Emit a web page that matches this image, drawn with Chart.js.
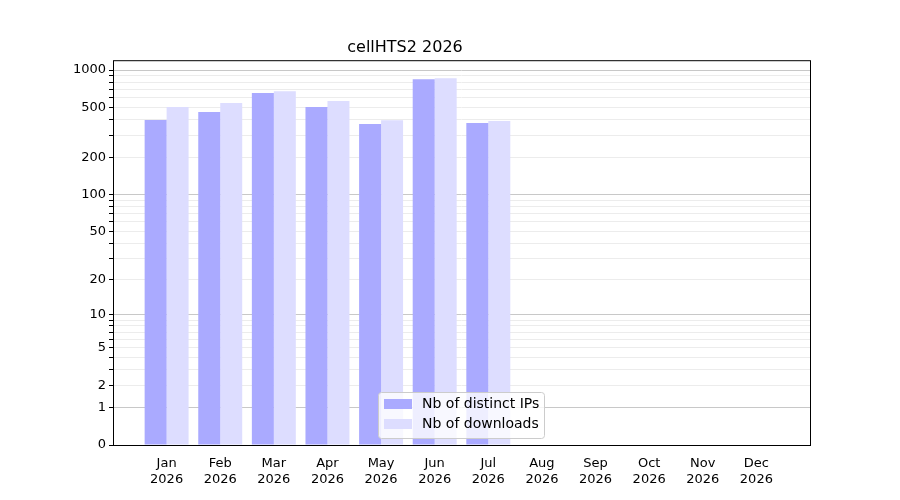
<!DOCTYPE html>
<html>
<head>
<meta charset="utf-8">
<script src="https://cdn.jsdelivr.net/npm/chart.js@4"></script>
<style>
  body { margin: 0; background: #fff; }
  #wrap { width: 900px; height: 500px; }
</style>
</head>
<body>
<div id="wrap"><canvas id="chart" width="900" height="500"></canvas></div>
<script>
const months = ['Jan', 'Feb', 'Mar', 'Apr', 'May', 'Jun', 'Jul', 'Aug', 'Sep', 'Oct', 'Nov', 'Dec'];
const year = '2026';
const distinctIps = [398, 461, 654, 505, 369, 846, 376];
const downloads = [505, 544, 678, 564, 397, 862, 390];
const yLabels = [0, 1, 2, 5, 10, 20, 50, 100, 200, 500, 1000];

// log10(1 + v) scale, like the original
const tf = v => Math.log10(1 + v);
const inv = t => Math.round(Math.pow(10, t) - 1);

const gridVals = [0];
for (let d = 1; d <= 1000; d *= 10) {
    for (let m = 1; m <= 9; m++) {
        if (d * m <= 1000) gridVals.push(d * m);
    }
}

const toPoints = arr => arr.map((v, i) => ({ x: i, y: tf(v) }));

const legendBox = {
    id: 'legendBox',
    afterDraw(chart) {
        const ctx = chart.ctx;
        const a = chart.chartArea;
        ctx.save();
        ctx.strokeStyle = '#000';
        ctx.lineWidth = 1;
        ctx.strokeRect(a.left + 0.5, a.top + 0.5, a.right - a.left, a.bottom - a.top);

        const x = 378, y = 392, w = 166, h = 46;
        ctx.fillStyle = 'rgba(255,255,255,0.8)';
        ctx.strokeStyle = '#cccccc';
        ctx.beginPath();
        ctx.roundRect(x + 0.5, y + 0.5, w, h, 3);
        ctx.fill();
        ctx.stroke();
        ctx.font = '14px "DejaVu Sans"';
        ctx.textBaseline = 'middle';
        chart.data.datasets.forEach((ds, i) => {
            const ry = y + 12 + i * 20;
            ctx.fillStyle = ds.backgroundColor;
            ctx.fillRect(x + 6, ry - 5, 28, 10);
            ctx.fillStyle = '#000';
            ctx.fillText(ds.label, x + 44, ry);
        });
        ctx.restore();
    }
};

new Chart(document.getElementById('chart'), {
    type: 'bar',
    data: {
        datasets: [{
            label: 'Nb of distinct IPs',
            data: toPoints(distinctIps),
            backgroundColor: '#aaaaff'
        }, {
            label: 'Nb of downloads',
            data: toPoints(downloads),
            backgroundColor: '#ddddff'
        }]
    },
    options: {
        responsive: false,
        animation: false,
        layout: { padding: { right: 90 } },
        datasets: { bar: { categoryPercentage: 0.82, barPercentage: 1.0 } },
        plugins: {
            legend: { display: false },
            tooltip: { enabled: false },
            title: {
                display: true,
                text: 'cellHTS2 2026',
                color: '#000',
                font: { family: 'DejaVu Sans', size: 16, weight: 'normal' },
                padding: { top: 38, bottom: 3 }
            }
        },
        scales: {
            x: {
                type: 'linear',
                offset: false,
                min: -1,
                max: 12,
                afterBuildTicks: s => { s.ticks = months.map((m, i) => ({ value: i })); },
                afterFit: s => { s.height = 55; },
                grid: { display: false, drawTicks: true },
                border: { display: false },
                ticks: {
                    color: '#000',
                    font: { family: 'DejaVu Sans', size: 13 },
                    maxRotation: 0,
                    autoSkip: false,
                    callback: v => months[v] ? [months[v], year] : ''
                }
            },
            y: {
                type: 'linear',
                min: 0,
                max: tf(1200),
                afterBuildTicks: s => { s.ticks = gridVals.map(v => ({ value: tf(v) })); },
                afterFit: s => { s.width = 113; },
                border: { display: false },
                grid: {
                    color: c => {
                        const v = inv(c.tick.value);
                        if (v === 0) return 'rgba(0,0,0,0)';
                        return [1, 10, 100, 1000].includes(v) ? '#c8c8c8' : '#ececec';
                    },
                    tickColor: '#000',
                    tickLength: 4
                },
                ticks: {
                    color: '#000',
                    font: { family: 'DejaVu Sans', size: 13 },
                    autoSkip: false,
                    callback: v => {
                        const n = inv(v);
                        return yLabels.includes(n) ? String(n) : '';
                    }
                }
            }
        }
    },
    plugins: [legendBox]
});
</script>
</body>
</html>
